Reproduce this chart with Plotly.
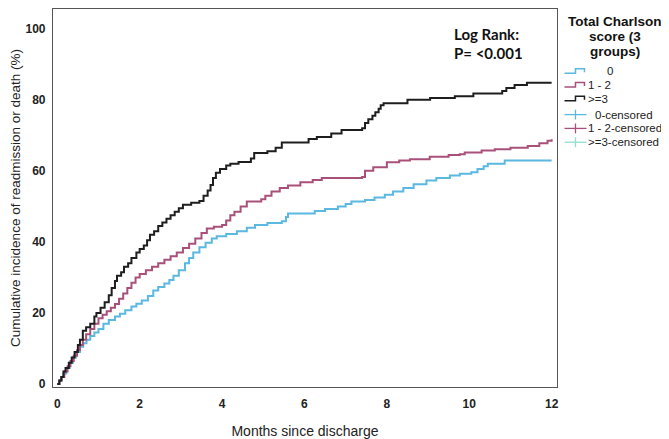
import plotly.graph_objects as go

# ---- data (months, cumulative incidence %) ----
t_g0 = [0, 0.05, 0.1, 0.15, 0.22, 0.3, 0.38, 0.45, 0.55, 0.63, 0.71, 0.8, 0.9, 1.0, 1.12, 1.25, 1.4, 1.52,
        1.65, 1.8, 1.92, 2.05, 2.2, 2.33, 2.45, 2.6, 2.72, 2.82, 2.95, 3.1, 3.2, 3.3, 3.45, 3.6, 3.75, 3.87,
        4.1, 4.36, 4.6, 4.8, 5.1, 5.45, 5.55, 5.6, 6.25, 6.5, 6.81, 7.0, 7.14, 7.47, 7.7, 7.95, 8.15, 8.4,
        8.65, 8.96, 9.2, 9.53, 9.77, 10.05, 10.2, 10.35, 10.45, 10.86, 12.0]
y_g0 = [0, 1, 2, 3, 4.5, 6, 7.5, 9, 10.5, 11.5, 12.5, 13.5, 14.5, 15.5, 17, 18, 19, 19.8,
        20.8, 21.8, 22.6, 23.5, 24.8, 26.3, 27.3, 28.3, 29.3, 30.5, 32, 34, 35.5, 37, 38.5, 39.8, 41, 41.6,
        42.2, 43, 44, 44.8, 45.3, 45.8, 47, 48, 48.7, 49.3, 50, 50.7, 51.4, 51.8, 52.5, 53.3, 54.2, 55.2,
        56.2, 57.3, 58, 58.7, 59.2, 59.6, 60.5, 61.3, 62, 62.9, 62.9]

t_g12 = [0, 0.05, 0.1, 0.17, 0.25, 0.32, 0.4, 0.48, 0.55, 0.62, 0.7, 0.8, 0.9, 1.0, 1.1, 1.2, 1.3, 1.4,
         1.5, 1.6, 1.7, 1.8, 1.9, 2.0, 2.15, 2.3, 2.45, 2.6, 2.75, 2.9, 3.05, 3.2, 3.35, 3.5, 3.63, 3.8,
         4.0, 4.1, 4.2, 4.3, 4.45, 4.6, 4.95, 5.05, 5.2, 5.4, 5.6, 5.9, 6.2, 6.42, 7.4, 7.47, 7.67, 8.0,
         8.3, 8.56, 9.04, 9.5, 9.77, 9.89, 10.3, 10.62, 11.0, 11.42, 11.7, 11.9, 12.0]
y_g12 = [0, 1, 2, 3.5, 5, 6.5, 8, 9.5, 11, 12.5, 14, 15.5, 17, 18.5, 19.5, 20.5, 21.5, 22.5,
         24, 25.5, 27, 28.5, 30, 31, 32, 33, 34, 35, 36, 37, 38.3, 39.5, 41, 42.5, 43.8, 44.3,
         44.8, 46, 47.5, 48.5, 50, 51.4, 52, 53, 54.2, 55.2, 55.9, 56.8, 57.4, 58, 58.3, 60, 61, 62.4,
         62.9, 63.3, 64, 64.5, 64.7, 65.2, 65.7, 66.1, 66.5, 67, 67.8, 68.5, 68.9]

t_g3 = [0, 0.05, 0.1, 0.15, 0.2, 0.28, 0.35, 0.42, 0.5, 0.55, 0.62, 0.7, 0.8, 0.9, 0.95, 1.05, 1.15, 1.25,
        1.32, 1.4, 1.45, 1.55, 1.62, 1.72, 1.8, 1.92, 2.0, 2.1, 2.18, 2.25, 2.35, 2.45, 2.55, 2.65, 2.75,
        2.85, 2.95, 3.05, 3.25, 3.45, 3.55, 3.65, 3.72, 3.78, 3.85, 3.95, 4.1, 4.2, 4.4, 4.7, 4.78, 5.1,
        5.3, 5.45, 6.1, 6.3, 6.65, 6.9, 7.4, 7.47, 7.55, 7.65, 7.72, 7.8, 7.85, 7.92, 8.5, 9.05, 9.65,
        10.1, 10.8, 10.9, 11.1, 11.4, 12.0]
y_g3 = [0, 1, 2, 3.5, 4.5, 6, 7.5, 9, 11, 12.5, 15, 16, 17, 19, 20, 21.5, 23, 25,
        27, 29, 30.5, 31.5, 33, 34, 35.5, 37, 38, 39, 40.5, 42, 43, 44.5, 45.5, 46.5, 47.5,
        48.5, 49.5, 50.5, 51, 51.5, 53, 54.5, 56, 58, 59.5, 60.5, 61.5, 62, 62.5, 63.5, 65, 65.5,
        66.5, 68, 69, 69.5, 70.5, 71.5, 72, 73.5, 74.5, 75.5, 76.5, 77.5, 78.5, 79, 80, 80.5, 81,
        81.8, 82.5, 83.3, 84.2, 84.8, 84.8]

group_names = ["0", "1 - 2", ">=3"]
censored_names = ["0-censored", "1 - 2-censored", ">=3-censored"]
x_ticks = [0, 2, 4, 6, 8, 10, 12]
y_ticks = [0, 20, 40, 60, 80, 100]

C0, C12, C3, CCEN3 = "#5BB8E0", "#A9507A", "#1E1E1E", "#8FDFD6"

# page offset of the plot div (browser default body margin)
OFF = 8
W, H = 669 - OFF, 439 - OFF
# plot area in reference-screen pixels
PX0, PX1, PY0, PY1 = 53, 557.5, 8, 391
L, R, T, B = PX0 - OFF, 669 - PX1, PY0 - OFF, 439 - PY1
PW, PH = PX1 - PX0, PY1 - PY0


def px(x):
    return (x - PX0) / PW


def py(y):
    return (PY1 - y) / PH


fig = go.Figure()
for t, y, c, n in [(t_g0, y_g0, C0, group_names[0]),
                   (t_g12, y_g12, C12, group_names[1]),
                   (t_g3, y_g3, C3, group_names[2])]:
    fig.add_trace(go.Scatter(x=t, y=y, mode="lines", line=dict(color=c, width=2, shape="hv"),
                             name=n, showlegend=False, hoverinfo="skip"))

ann = []
shapes = []
# Legend title
for txt, yy in [("Total Charlson", 21), ("score (3", 36), ("groups)", 51)]:
    ann.append(dict(x=px(616), y=py(yy), xref="paper", yref="paper", text="<b>%s</b>" % txt,
                    showarrow=False, xanchor="center", yanchor="middle",
                    font=dict(family="Liberation Sans, Arial", size=13.5, color="#111")))

# Legend step glyphs
for yy, c, name, tx in [(71, C0, group_names[0], 606), (85, C12, group_names[1], 587),
                        (99, C3, group_names[2], 587)]:
    path = "M %f %f L %f %f L %f %f L %f %f L %f %f" % (
        px(565), py(yy + 2), px(576), py(yy + 2), px(576), py(yy - 2.5),
        px(585), py(yy - 2.5), px(585), py(yy + 1))
    shapes.append(dict(type="path", path=path, xref="paper", yref="paper",
                       line=dict(color=c, width=1.5)))
    ann.append(dict(x=px(tx), y=py(yy), xref="paper", yref="paper", text=name, showarrow=False,
                    xanchor="left", yanchor="middle",
                    font=dict(family="Liberation Sans, Arial", size=11.5, color="#222")))

# Legend censored crosses
for yy, c, name, tx in [(115, C0, censored_names[0], 594), (129, C12, censored_names[1], 587),
                        (143, CCEN3, censored_names[2], 587)]:
    shapes.append(dict(type="line", xref="paper", yref="paper", x0=px(565), x1=px(587),
                       y0=py(yy), y1=py(yy), line=dict(color=c, width=1.3)))
    shapes.append(dict(type="line", xref="paper", yref="paper", x0=px(576), x1=px(576),
                       y0=py(yy - 5), y1=py(yy + 5), line=dict(color=c, width=1.3)))
    ann.append(dict(x=px(tx), y=py(yy), xref="paper", yref="paper", text=name, showarrow=False,
                    xanchor="left", yanchor="middle",
                    font=dict(family="Liberation Sans, Arial", size=11.5, color="#222")))

# Log rank text
ann.append(dict(x=px(452), y=py(33), xref="paper", yref="paper", text="<b>Log Rank:</b>",
                showarrow=False, xanchor="left", yanchor="middle",
                font=dict(family="Lato, Open Sans", size=15, color="#111")))
ann.append(dict(x=px(452), y=py(53), xref="paper", yref="paper", text="<b>P= <0.001</b>",
                showarrow=False, xanchor="left", yanchor="middle",
                font=dict(family="Lato, Open Sans", size=15, color="#111")))

tickfont = dict(family="Liberation Sans Narrow, Arial Narrow, Liberation Sans", size=12, color="#222")

fig.update_layout(
    width=W, height=H,
    margin=dict(l=L, r=R, t=T, b=B, pad=0),
    paper_bgcolor="white", plot_bgcolor="white",
    showlegend=False,
    annotations=ann, shapes=shapes,
    xaxis=dict(range=[-0.104, 12.13], tickvals=x_ticks, ticktext=["<b>%d</b>" % v for v in x_ticks],
               showgrid=False, zeroline=False, showline=True, linecolor="#555", linewidth=1.2,
               mirror=True, ticks="", tickfont=tickfont, ticklabelstandoff=5,
               title=dict(text="Months since discharge", standoff=19,
                          font=dict(family="Liberation Sans, Arial", size=14, color="#222"))),
    yaxis=dict(range=[-0.83, 105.56], tickvals=y_ticks, ticktext=["<b>%d</b>" % v for v in y_ticks],
               showgrid=False, zeroline=False, showline=True, linecolor="#555", linewidth=1.2,
               mirror=True, ticks="", tickfont=tickfont, ticklabelstandoff=4,
               title=dict(text="Cumulative incidence of readmission or death (%)", standoff=2,
                          font=dict(family="Liberation Sans, Arial", size=13.5, color="#222"))),
)

fig.write_html("out.html")
